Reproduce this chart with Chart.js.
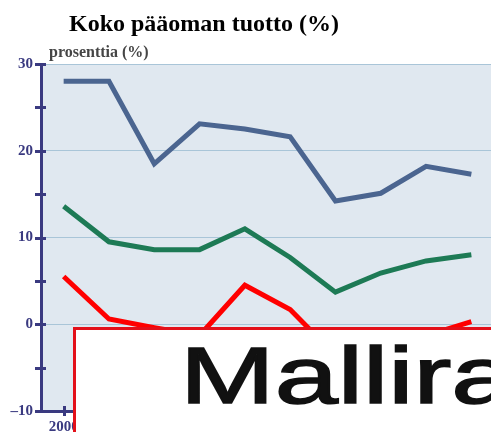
<!DOCTYPE html>
<html>
<head>
<meta charset="utf-8">
<script src="https://cdn.jsdelivr.net/npm/chart.js@4"></script>
<style>
  html, body { margin: 0; padding: 0; background: #fff; }
  #wrap { position: relative; width: 491px; height: 432px; overflow: hidden; }
  #box { position: absolute; width: 494px; height: 432px; }
  #stamp {
    position: absolute; left: 73px; top: 327px; width: 440px; height: 120px;
    border: 3px solid #e3101a; background: #fff; overflow: hidden;
  }
  #stamp span {
    position: absolute; left: 104px; top: 6px; white-space: nowrap;
    font: 80px "Liberation Sans", Arial, sans-serif; line-height: 80px;
    color: #111; -webkit-text-stroke: 1.6px #111;
    transform: scaleX(1.42); transform-origin: left top;
  }
</style>
</head>
<body>
<div id="wrap">
  <div id="box"><canvas id="myChart" width="494" height="432"></canvas></div>
  <div id="stamp"><span>Malliraportti</span></div>
</div>
<script>
// data
const years = ["2000", "2001", "2002", "2003", "2004", "2005", "2006", "2007", "2008", "2009"];
const seriesBlue = [28.0, 28.0, 18.5, 23.1, 22.5, 21.6, 14.2, 15.1, 18.2, 17.3];
const seriesGreen = [13.6, 9.5, 8.6, 8.6, 11.0, 7.7, 3.7, 5.9, 7.3, 8.0];
const seriesRed = [5.5, 0.6, -0.4, -1.3, 4.5, 1.7, -3.6, -2.0, -1.3, 0.3];
const yTicks = [-10, 0, 10, 20, 30];

const titleText = "Koko pääoman tuotto (%)";
const unitText = "prosenttia (%)";
const navy = "#3a3a80";

// plot background + headings + crossing tick marks
const decor = {
  id: "decor",
  beforeDraw(chart) {
    const { ctx, chartArea: a } = chart;
    ctx.save();
    ctx.fillStyle = "#e0e8f0";
    ctx.fillRect(a.left, a.top, a.right - a.left, a.bottom - a.top);
    ctx.restore();
  },
  afterDraw(chart) {
    const { ctx, chartArea: a, scales } = chart;
    ctx.save();
    ctx.fillStyle = "#000";
    ctx.font = "bold 24px 'Liberation Serif', serif";
    ctx.textBaseline = "alphabetic";
    ctx.fillText(titleText, 69, 31);
    ctx.fillStyle = "#454545";
    ctx.font = "bold 16px 'Liberation Serif', serif";
    ctx.fillText(unitText, 49, 57);

    ctx.strokeStyle = navy;
    ctx.lineWidth = 3;
    const y = scales.y;
    for (let v = y.min; v <= y.max; v += 5) {
      const py = Math.round(y.getPixelForValue(v)) + 0.5;
      ctx.beginPath();
      ctx.moveTo(a.left - 6, py);
      ctx.lineTo(a.left + 5, py);
      ctx.stroke();
    }
    const x = scales.x;
    years.forEach((_, i) => {
      const px = Math.round(x.getPixelForValue(i)) + 0.5;
      ctx.beginPath();
      ctx.moveTo(px, a.bottom - 5);
      ctx.lineTo(px, a.bottom + 5);
      ctx.stroke();
    });
    ctx.restore();
  }
};

const data = {
  labels: years,
  datasets: [
    { label: "A", data: seriesBlue, borderColor: "#4b6590" },
    { label: "B", data: seriesGreen, borderColor: "#1d7a55" },
    { label: "C", data: seriesRed, borderColor: "#ff0000" },
  ].map((d) => ({ ...d, borderWidth: 5, pointRadius: 0, tension: 0, fill: false, borderJoinStyle: "miter" })),
};

const config = {
  type: "line",
  data,
  plugins: [decor],
  options: {
    responsive: false,
    animation: false,
    layout: { padding: { top: 64, right: 0, left: 0, bottom: 0 } },
    plugins: { legend: { display: false }, tooltip: { enabled: false } },
    scales: {
      y: {
        min: -10,
        max: 30,
        afterFit: (s) => { s.width = 41; },
        afterBuildTicks: (s) => { s.ticks = yTicks.map((v) => ({ value: v })); },
        grid: { color: "#a9c5d8", lineWidth: 1, drawTicks: true, tickLength: 6, tickColor: "rgba(0,0,0,0)" },
        border: { color: navy, width: 3 },
        ticks: {
          padding: 2,
          color: navy,
          font: { family: "'Liberation Serif', serif", size: 15, weight: "bold" },
          callback: (v) => (v < 0 ? "\u2013" + Math.abs(v) : v),
        },
      },
      x: {
        offset: true,
        afterFit: (s) => { s.height = 21; },
        grid: { display: false, drawTicks: true, tickLength: 5, tickColor: "rgba(0,0,0,0)" },
        border: { color: navy, width: 3 },
        ticks: {
          padding: 2,
          maxRotation: 0,
          autoSkip: false,
          color: navy,
          font: { family: "'Liberation Serif', serif", size: 15, weight: "bold" },
        },
      },
    },
  },
};

const myChart = new Chart(document.getElementById("myChart"), config);
</script>
</body>
</html>
